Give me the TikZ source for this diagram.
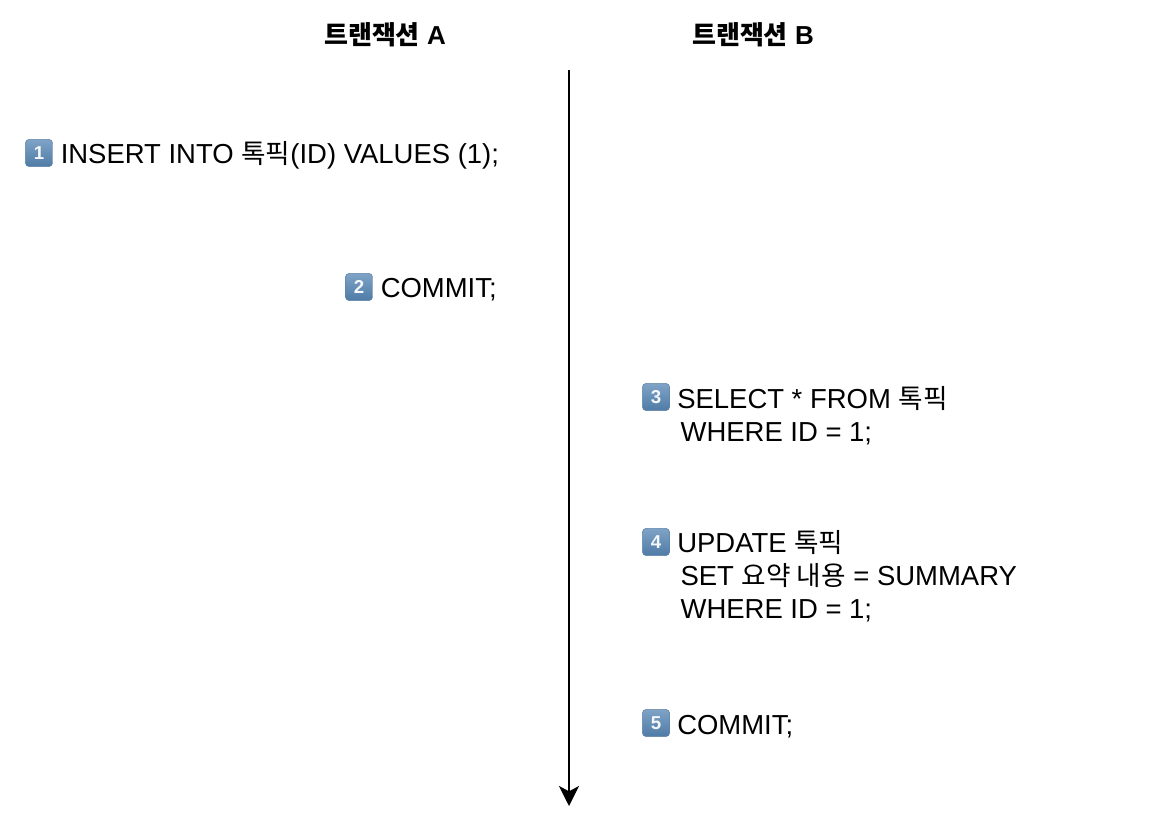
\documentclass[tikz,border=0pt]{standalone}
\usepackage{fontspec}
\setmainfont{Liberation Sans}
\newfontfamily\krfont{Noto Sans CJK KR}
\usepackage{tikz}
\usetikzlibrary{arrows.meta, positioning}
\definecolor{keytop}{HTML}{7FA3C6}
\definecolor{keybottom}{HTML}{4F7BA6}
\definecolor{keyline}{HTML}{5F84A8}
\newcommand{\kr}[1]{{\krfont\fontsize{20}{24.75}\selectfont #1}}
\newcommand{\krb}[1]{{\krfont\bfseries #1}}
\tikzset{
  titlelabel/.style={font=\fontsize{19.5}{24}\selectfont\bfseries, anchor=base},
  stmtlabel/.style={font=\fontsize{20.6}{24.75}\selectfont, anchor=base west, align=left, inner sep=0pt},
  keybadge/.style={rounded corners=3pt, minimum size=20.5pt, inner sep=0pt,
                   top color=keytop, bottom color=keybottom, draw=keyline, line width=0.4pt,
                   text=white!92!keytop, font=\fontsize{14}{14}\selectfont\bfseries},
}
\begin{document}
\begin{tikzpicture}[x=0.75pt, y=-0.75pt]
    \useasboundingbox (0,0) rectangle (1160,830);
    % Titles
    \node[titlelabel] (titleA) at (385,45) {\krb{트랜잭션} A};
    \node[titlelabel] (titleB) at (753,45) {\krb{트랜잭션} B};
    % Time axis
    \coordinate (axistop) at (569,70);
    \coordinate (axisend) at (569,806);
    \draw[line width=1.5pt, -{Stealth[length=15pt, width=15pt, inset=4pt]}] (axistop) -- (axisend);
    % Transaction A
    \node[keybadge] (keyone) at (39,153) {1};
    \node[stmtlabel] (stmtone) at (60.5,163.5) {INSERT INTO \kr{톡픽}(ID) VALUES (1);};
    \node[keybadge] (keytwo) at (359,287) {2};
    \node[stmtlabel] (stmttwo) at (380.5,298) {COMMIT;};
    % Transaction B
    \node[keybadge] (keythree) at (656,397) {3};
    \node[stmtlabel] (stmtthree) at (677,441)
         {SELECT * FROM \kr{톡픽}\\\hspace*{2.5pt}WHERE ID = 1;};
    \node[keybadge] (keyfour) at (656,542) {4};
    \node[stmtlabel] (stmtfour) at (677,618)
         {UPDATE \kr{톡픽}\\\hspace*{2.5pt}SET \kr{요약 내용} = SUMMARY\\\hspace*{2.5pt}WHERE ID = 1;};
    \node[keybadge] (keyfive) at (656,723) {5};
    \node[stmtlabel] (stmtfive) at (677,734) {COMMIT;};
\end{tikzpicture}
\end{document}
